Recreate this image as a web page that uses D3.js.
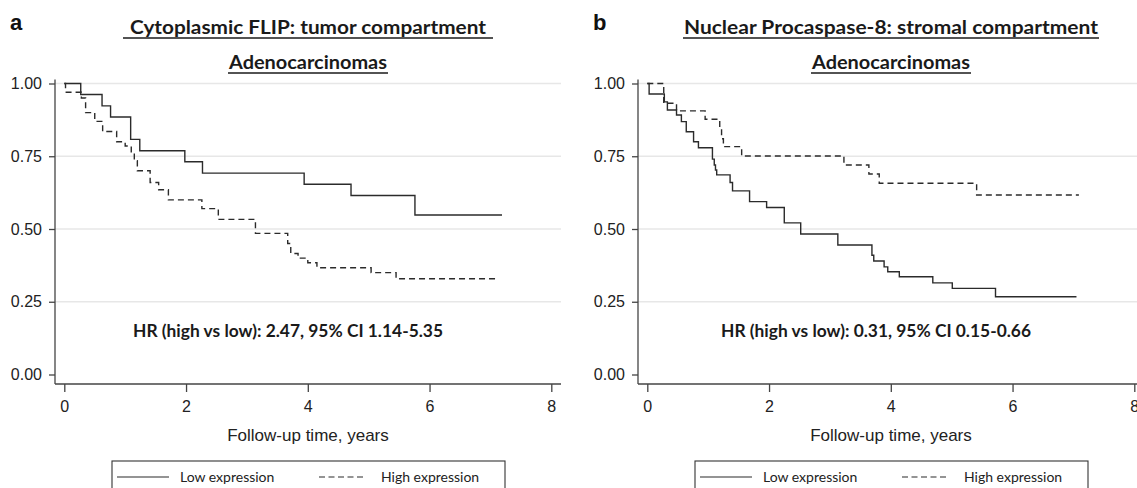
<!DOCTYPE html>
<html>
<head>
<meta charset="utf-8">
<script src="https://cdn.jsdelivr.net/npm/d3@7"></script>
<style>
  body { margin: 0; background: #fff; }
  svg { display: block; }
</style>
</head>
<body>
<svg id="chart" width="1137" height="488"></svg>
<script>
// ---- data ----
var xTicks = [0, 2, 4, 6, 8];
var yTicks = [0, 0.25, 0.5, 0.75, 1];
var gridTicks = [0.25, 0.5, 0.75, 1];
var legendLabels = ["Low expression", "High expression"];
var panelLetters = ["a", "b"];
var titleLines = [
	["Cytoplasmic FLIP: tumor compartment", "Adenocarcinomas"],
	["Nuclear Procaspase-8: stromal compartment", "Adenocarcinomas"]
];
var hrTexts = [
	"HR (high vs low): 2.47, 95% CI 1.14-5.35",
	"HR (high vs low): 0.31, 95% CI 0.15-0.66"
];
var xTitle = "Follow-up time, years";

// panel a, low expression (solid)
var timeALow = [0, 0.27, 0.62, 0.76, 1.09, 1.24, 1.98, 2.27, 3.94, 4.71, 5.76, 7.19];
var survALow = [1.0, 0.962, 0.923, 0.885, 0.808, 0.769, 0.731, 0.692, 0.654, 0.615, 0.548, 0.548];
// panel a, high expression (dashed)
var timeAHigh = [0, 0.02, 0.28, 0.35, 0.5, 0.63, 0.86, 1.0, 1.1, 1.15, 1.2, 1.41, 1.55, 1.71, 2.26, 2.53, 3.14, 3.67, 3.72, 3.84, 4.0, 4.15, 5.04, 5.45, 7.1];
var survAHigh = [1.0, 0.97, 0.95, 0.90, 0.87, 0.835, 0.80, 0.785, 0.765, 0.735, 0.70, 0.66, 0.635, 0.60, 0.57, 0.533, 0.485, 0.45, 0.416, 0.40, 0.384, 0.367, 0.35, 0.329, 0.329];
// panel b, low expression (solid)
var timeBLow = [0, 0.03, 0.28, 0.33, 0.48, 0.56, 0.64, 0.76, 0.84, 1.07, 1.1, 1.12, 1.14, 1.36, 1.4, 1.68, 1.96, 2.25, 2.52, 3.13, 3.69, 3.72, 3.89, 3.95, 4.14, 4.69, 5.01, 5.72, 7.05];
var survBLow = [1.0, 0.964, 0.937, 0.909, 0.892, 0.869, 0.834, 0.80, 0.779, 0.74, 0.72, 0.703, 0.686, 0.66, 0.631, 0.594, 0.574, 0.521, 0.483, 0.445, 0.41, 0.39, 0.37, 0.353, 0.336, 0.315, 0.296, 0.267, 0.267];
// panel b, high expression (dashed)
var timeBHigh = [0, 0.27, 0.48, 0.95, 1.19, 1.22, 1.25, 1.55, 3.23, 3.64, 3.81, 5.41, 7.09];
var survBHigh = [1.0, 0.932, 0.906, 0.877, 0.846, 0.81, 0.783, 0.751, 0.72, 0.689, 0.657, 0.617, 0.617];

var panels = [
	{ low: d3.zip(timeALow, survALow), high: d3.zip(timeAHigh, survAHigh) },
	{ low: d3.zip(timeBLow, survBLow), high: d3.zip(timeBHigh, survBHigh) }
];

var svg = d3.select("#chart");
var ink = "#2b2b2b";
var axisFont = "'Liberation Sans', Arial, sans-serif";
var boldFont = "Lato, 'Open Sans', sans-serif";

var drawPanel = function(i) {
	var off = i * 583;
	var g = svg.append("g").attr("transform", "translate(" + off + ",0)");
	var axisX = 55, plotRight = 561, axisY = 384;

	var x = d3.scaleLinear().domain([0, 8]).range([64.3, 551.3]);
	var y = d3.scaleLinear().domain([0, 1]).range([374.5, 83.5]);

	// grid
	g.selectAll("line.grid")
		.data(gridTicks)
		.enter()
		.append("line")
		.attr("class", "grid")
		.attr("x1", axisX).attr("x2", plotRight)
		.attr("y1", function(d) { return y(d); })
		.attr("y2", function(d) { return y(d); })
		.attr("stroke", "#e7e7e7")
		.attr("stroke-width", 1.4);

	// y axis
	var yAxis = g.append("g")
		.attr("transform", "translate(" + axisX + ",0)")
		.call(d3.axisLeft(y).tickValues(yTicks).tickFormat(d3.format(".2f")).tickSize(6).tickPadding(7).tickSizeOuter(0));
	yAxis.select(".domain").remove();
	yAxis.append("line")
		.attr("x1", 0).attr("x2", 0)
		.attr("y1", y(1) - 4).attr("y2", axisY);

	// x axis
	var xAxis = g.append("g")
		.attr("transform", "translate(0," + axisY + ")")
		.call(d3.axisBottom(x).tickValues(xTicks).tickSize(8).tickPadding(9).tickSizeOuter(0));
	xAxis.select(".domain").remove();
	xAxis.append("line")
		.attr("x1", axisX).attr("x2", plotRight)
		.attr("y1", 0).attr("y2", 0);

	g.selectAll(".tick line").attr("stroke", "#555").attr("stroke-width", 1.1);
	g.selectAll("g > line:not(.grid)").attr("stroke", "#444").attr("stroke-width", 1.3);
	g.selectAll(".tick text")
		.attr("fill", "#222")
		.style("font-family", axisFont)
		.style("font-size", "16px");

	// x axis title
	g.append("text")
		.attr("x", 308).attr("y", 441)
		.attr("text-anchor", "middle")
		.attr("fill", "#222")
		.style("font-family", axisFont)
		.style("font-size", "17px")
		.text(xTitle);

	// survival curves
	var line = d3.line()
		.curve(d3.curveStepAfter)
		.x(function(d) { return x(d[0]); })
		.y(function(d) { return y(d[1]); });

	g.append("path")
		.datum(panels[i].low)
		.attr("d", line)
		.attr("fill", "none")
		.attr("stroke", ink)
		.attr("stroke-width", 1.4);

	g.append("path")
		.datum(panels[i].high)
		.attr("d", line)
		.attr("fill", "none")
		.attr("stroke", ink)
		.attr("stroke-width", 1.4)
		.attr("stroke-dasharray", "6,4");

	// HR annotation
	g.append("text")
		.attr("x", 288 + i * 5).attr("y", 337)
		.attr("text-anchor", "middle")
		.attr("fill", "#1a1a1a")
		.style("font-family", boldFont)
		.style("font-weight", "bold")
		.style("font-size", "16.5px")
		.attr("textLength", 310)
		.attr("lengthAdjust", "spacingAndGlyphs")
		.text(hrTexts[i]);

	// panel letter
	g.append("text")
		.attr("x", 10).attr("y", 30)
		.attr("fill", "#111")
		.style("font-family", axisFont)
		.style("font-weight", "bold")
		.style("font-size", "22px")
		.text(panelLetters[i]);

	// titles, underlined
	var titleW = [i == 0 ? 356 : 414, 158];
	var titleY = [34, 69];
	titleLines[i].forEach(function(t, k) {
		g.append("text")
			.attr("x", 308).attr("y", titleY[k])
			.attr("text-anchor", "middle")
			.attr("fill", "#1a1a1a")
			.style("font-family", boldFont)
			.style("font-weight", "bold")
			.style("font-size", "19px")
			.attr("textLength", titleW[k])
			.attr("lengthAdjust", "spacingAndGlyphs")
			.text(t);
		var pad = (i == 0 && k == 0) ? 7 : 1;
		g.append("line")
			.attr("x1", 308 - titleW[k] / 2 - pad)
			.attr("x2", 308 + titleW[k] / 2 + pad)
			.attr("y1", titleY[k] + 4).attr("y2", titleY[k] + 4)
			.attr("stroke", "#1a1a1a")
			.attr("stroke-width", 1.6);
	});

	// legend box
	var lg = g.append("g");
	lg.append("rect")
		.attr("x", 112).attr("y", 461)
		.attr("width", 393).attr("height", 40)
		.attr("fill", "none")
		.attr("stroke", "#333")
		.attr("stroke-width", 1.1);
	var keyX = [[117, 169], [319, 364]];
	var textX = [180, 381];
	legendLabels.forEach(function(lab, k) {
		lg.append("line")
			.attr("x1", keyX[k][0]).attr("x2", keyX[k][1])
			.attr("y1", 477).attr("y2", 477)
			.attr("stroke", ink)
			.attr("stroke-width", 1.2)
			.attr("stroke-dasharray", k == 1 ? "6,3.5" : null);
		lg.append("text")
			.attr("x", textX[k]).attr("y", 482)
			.attr("fill", "#222")
			.style("font-family", boldFont)
			.style("font-size", "14px")
			.text(lab);
	});
};

panelLetters.forEach(function(p, i) {
	drawPanel(i);
});
</script>
</body>
</html>
